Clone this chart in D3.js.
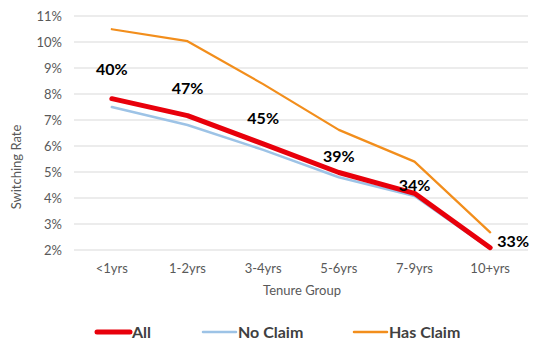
<!DOCTYPE html>
<html><head><meta charset="utf-8">
<script src="https://cdn.jsdelivr.net/npm/d3@7"></script>
<style>body{margin:0;background:#fff}svg{display:block}text{font-family:Lato,"Open Sans",sans-serif}</style>
</head><body><svg id="c" width="556" height="351"></svg>
<script>
const categories = ["<1yrs","1-2yrs","3-4yrs","5-6yrs","7-9yrs","10+yrs"];
const allValues = [7.82, 7.17, 6.08, 4.98, 4.18, 2.09];
const noClaimValues = [7.50, 6.81, 5.85, 4.80, 4.08, 2.05];
const hasClaimValues = [10.49, 10.03, 8.38, 6.62, 5.40, 2.68];
const shareLabels = ["40%","47%","45%","39%","34%","33%"];
const shareLabelAt = [8.95, 8.2, 7.05, 5.6, 4.5, 2.35];
const yTicks = [2,3,4,5,6,7,8,9,10,11];

const svg = d3.select("#c");
const m = {l:74, r:28, t:16, b:101};
const W = 556, H = 351;
const x = d3.scaleBand().domain(categories).range([m.l, W-m.r]);
const y = d3.scaleLinear().domain([2,11]).range([H-m.b, m.t]);
const cx = d => x(d) + x.bandwidth()/2;

// grid
svg.append("g").selectAll("line").data(yTicks).join("line")
  .attr("x1", m.l).attr("x2", W-m.r)
  .attr("y1", d=>y(d)).attr("y2", d=>y(d))
  .attr("stroke", "#d9d9d9").attr("stroke-width", 1);

// y axis
const ya = svg.append("g").attr("transform",`translate(${m.l},0)`)
  .call(d3.axisLeft(y).tickValues(yTicks).tickFormat(d=>d+"%").tickSize(0).tickPadding(12));
ya.select(".domain").remove();
ya.selectAll("text").attr("fill","#595959").style("font-size","13px");

// x axis
const xa = svg.append("g").attr("transform",`translate(0,${H-m.b})`)
  .call(d3.axisBottom(x).tickSize(0).tickPadding(14));
xa.select(".domain").remove();
xa.selectAll("text").attr("fill","#595959").style("font-size","13px");

// titles
svg.append("text").attr("x",302).attr("y",295).attr("text-anchor","middle")
  .attr("fill","#595959").style("font-size","13px").text("Tenure Group");
svg.append("text").attr("transform","translate(21,167) rotate(-90)").attr("text-anchor","middle")
  .attr("fill","#595959").style("font-size","13px").text("Switching Rate");

const line = d3.line().x((d,i)=>cx(categories[i])).y(d=>y(d));
const series = [
  {name:"Has Claim", values:hasClaimValues, color:"#f28e1c", w:2.25},
  {name:"No Claim", values:noClaimValues, color:"#9dc3e6", w:2.5},
  {name:"All", values:allValues, color:"#e8000b", w:5}
];
svg.append("g").selectAll("path").data(series).join("path")
  .attr("d", d=>line(d.values)).attr("fill","none")
  .attr("stroke", d=>d.color).attr("stroke-width", d=>d.w)
  .attr("stroke-linejoin","round").attr("stroke-linecap","round");

// share labels
svg.append("g").selectAll("text").data(shareLabels).join("text")
  .attr("x",(d,i)=> i===5 ? cx(categories[i])+23 : cx(categories[i]))
  .attr("y",(d,i)=>y(shareLabelAt[i]))
  .attr("dy","0.35em").attr("text-anchor","middle")
  .attr("fill","#000").style("font-size","16px").style("font-weight","bold")
  .text(d=>d);

// legend
const legend = [
  {name:"All", color:"#e8000b", w:5, x:97},
  {name:"No Claim", color:"#9dc3e6", w:2.5, x:203},
  {name:"Has Claim", color:"#f28e1c", w:2.5, x:354}
];
const lg = svg.append("g").selectAll("g").data(legend).join("g")
  .attr("transform", d=>`translate(${d.x},332)`);
lg.append("line").attr("x1",0).attr("x2",33).attr("y1",0).attr("y2",0)
  .attr("stroke",d=>d.color).attr("stroke-width",d=>d.w).attr("stroke-linecap","round");
lg.append("text").attr("x",35).attr("dy","0.35em").attr("fill","#404040")
  .style("font-size","16px").style("font-weight","bold").text(d=>d.name);
</script></body></html>
